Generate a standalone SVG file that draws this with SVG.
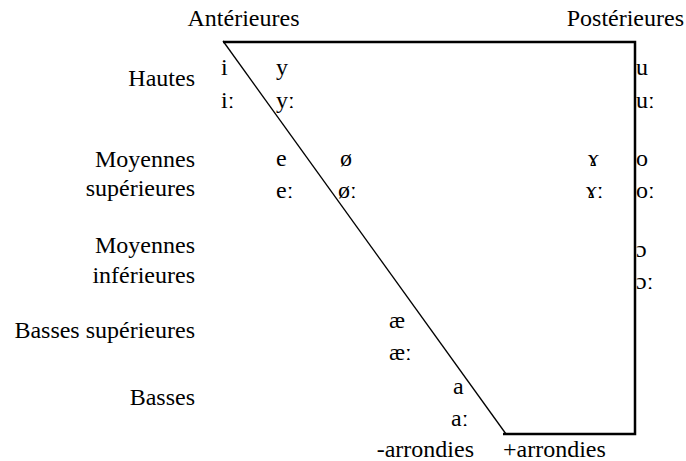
<svg xmlns="http://www.w3.org/2000/svg" width="686" height="461" viewBox="0 0 686 461" font-family="'Liberation Serif', 'Times New Roman', 'DejaVu Serif', serif">
<style>
text{font-family:'Liberation Serif','Times New Roman','DejaVu Serif',serif;font-size:24px;fill:#000}
.r{text-anchor:end}
</style>
<rect width="686" height="461" fill="#fff"/>
<g id="connectors" fill="none" stroke="#000">
<polyline points="223,42 635,42 635,434 503,434" stroke-width="2.5"/>
<line x1="223" y1="41" x2="506" y2="434" stroke-width="1.3"/>
</g>
<g id="headers">
<text x="243.5" y="26" text-anchor="middle">Antérieures</text>
<text x="684" y="26" class="r">Postérieures</text>
</g>
<g id="rows">
<text x="195" y="86" class="r">Hautes</text>
<text x="195" y="167" class="r">Moyennes</text>
<text x="195" y="196" class="r">supérieures</text>
<text x="195" y="253" class="r">Moyennes</text>
<text x="195" y="283" class="r">inférieures</text>
<text x="195" y="338" class="r">Basses supérieures</text>
<text x="195" y="405" class="r">Basses</text>
</g>
<g id="rounding">
<text x="474" y="457" class="r">-arrondies</text>
<text x="503" y="457">+arrondies</text>
</g>
<g id="vowels">
<text x="221" y="75">i</text><text x="221" y="108">iː</text>
<text x="276" y="75">y</text><text x="276" y="108">yː</text>
<text x="636" y="75">u</text><text x="636" y="108">uː</text>
<text x="276" y="166">e</text><text x="276" y="198">eː</text>
<text x="340" y="166">ø</text><text x="338" y="198">øː</text>
<text x="588" y="166">ɤ</text><text x="586" y="198">ɤː</text>
<text x="636" y="166">o</text><text x="636" y="198">oː</text>
<text x="636" y="257">ɔ</text><text x="636" y="289">ɔː</text>
<text x="389" y="328">æ</text><text x="389" y="360">æː</text>
<text x="453" y="394">a</text><text x="451" y="426">aː</text>
</g>
</svg>
